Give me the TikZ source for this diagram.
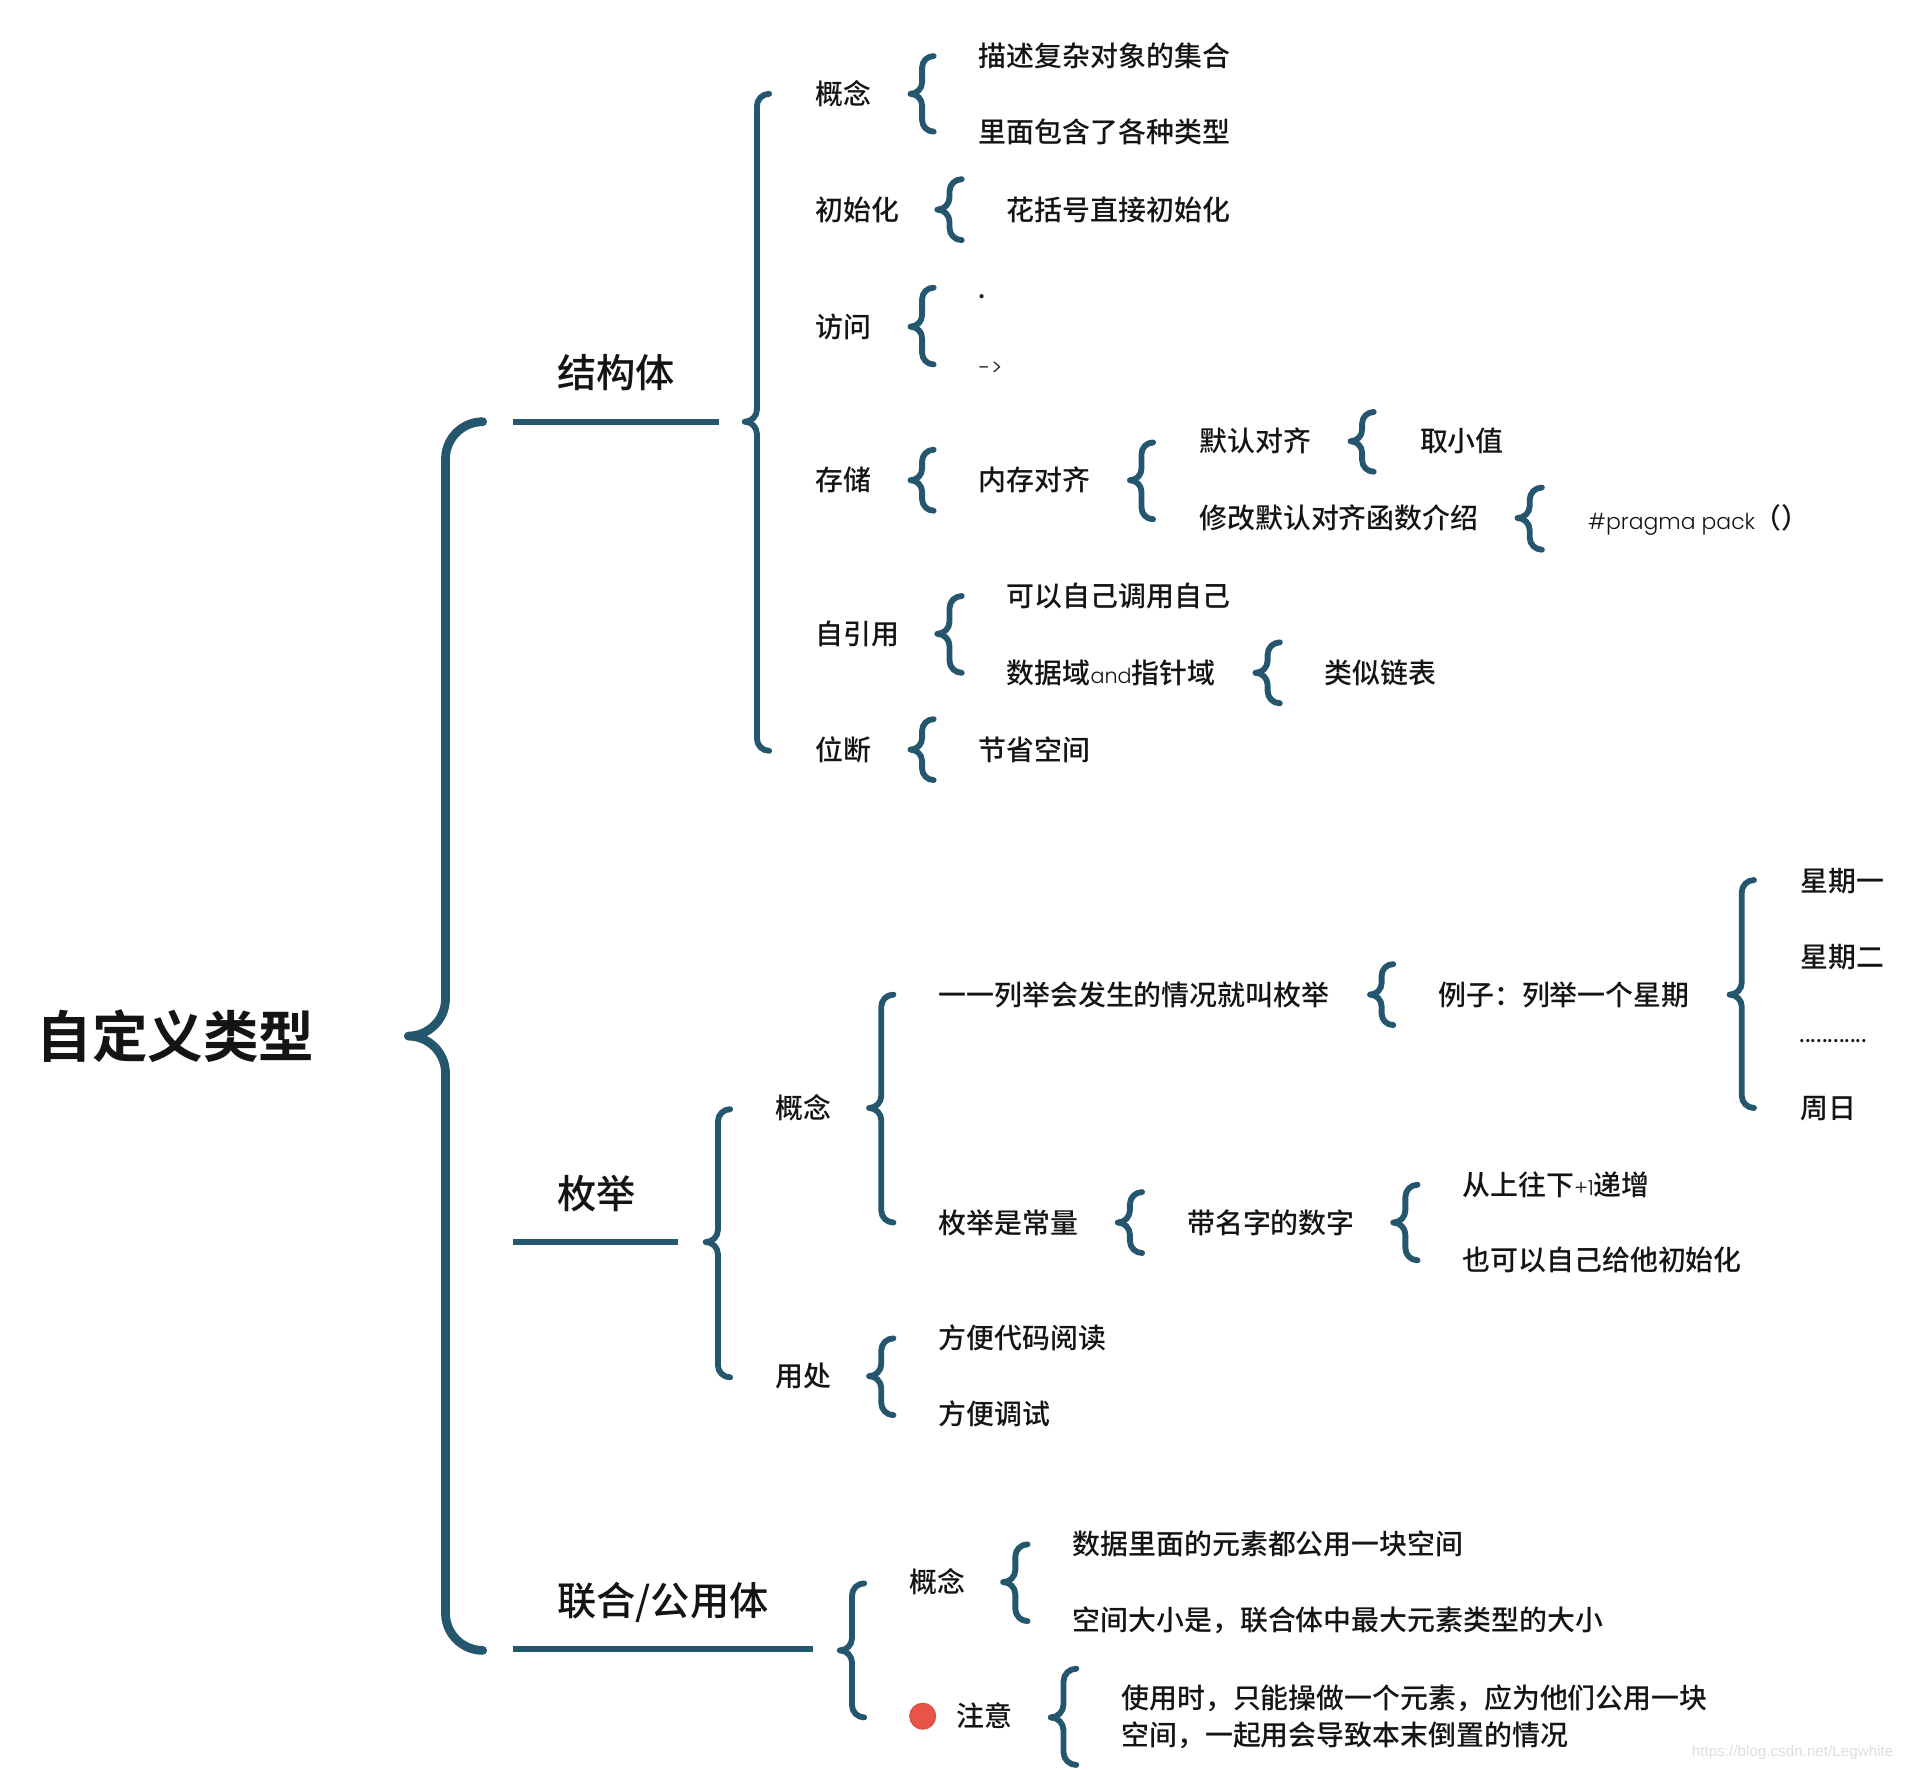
\documentclass[tikz,border=0pt]{standalone}
\usepackage{fontspec}
\setmainfont[BoldFont={Noto Sans CJK SC Bold}]{Noto Sans CJK SC Medium}
\newfontfamily\handfont[UprightFont=* Light]{Poppins}
\newfontfamily\wmfont{Liberation Sans}
\definecolor{brc}{HTML}{24566E}
\definecolor{inkc}{HTML}{141414}
\definecolor{dotfill}{HTML}{E85546}
\definecolor{dotline}{HTML}{DC5042}
\tikzset{
  brbase/.style={draw=brc,line cap=round,line join=round},
  brmid/.style={brbase,line width=4.8pt},
  brbig/.style={brbase,line width=7.2pt},
  ruleline/.style={draw=brc,line width=4.6pt},
  txtbase/.style={anchor=west,inner sep=0pt,outer sep=0pt,text=inkc},
  txt/.style={txtbase,text height=20.1pt,text depth=2.8pt,font=\fontsize{22.9}{26}\selectfont},
  txtmain/.style={txtbase,text height=28.5pt,text depth=3.9pt,font=\fontsize{32.2}{38}\selectfont},
  txttitle/.style={txtbase,text height=40.5pt,text depth=5.5pt,font=\fontsize{45.6}{52}\bfseries\selectfont},
  hand/.style={txtbase,text height=15.8pt,text depth=2.2pt,font=\fontsize{18}{24}\selectfont\handfont},
}
% name, tip x, end x, top, mid, bottom, style
\newcommand{\cbrace}[7]{%
  \pgfmathsetmacro{\brtip}{#2+2}
  \pgfmathsetmacro{\brend}{#3-2}
  \coordinate (#1-t) at (\brend,#4);
  \coordinate (#1-m) at (\brtip,#5);
  \coordinate (#1-b) at (\brend,#6);
  \pgfmathsetmacro{\brw}{(#3-#2)/2-2}
  \pgfmathsetmacro{\brc}{\brw*.55}
  \pgfmathsetmacro{\brsx}{(#2+#3)/2}
  \draw[#7] (#1-t) .. controls +(-\brc,0) and +(0,-\brc) .. ++(-\brw,\brw)
    -- (\brsx,{#5-\brw}) .. controls +(0,\brc) and +(\brc,0) .. (#1-m)
    .. controls +(\brc,0) and +(0,-\brc) .. (\brsx,{#5+\brw})
    -- (\brsx,{#6-\brw}) .. controls +(0,\brc) and +(-\brc,0) .. (#1-b);
}
\newcommand{\thin}[1]{{\fontsize{17}{20}\selectfont\handfont #1}}
\begin{document}
\begin{tikzpicture}[x=1pt,y=-1pt]
\useasboundingbox (0,0) rectangle (1567,1452.1);
% level 0
\node[txttitle] (root) at (30,850) {自定义类型};
\cbrace{b0}{333}{398}{346}{850}{1354}{brbig}
% level 1
\node[txtmain] (s) at (457,306) {结构体};
\node[txtmain] (e) at (457,979) {枚举};
\node[txtmain] (u) at (457,1313) {联合/公用体};
\coordinate (sa) at (421,346); \coordinate (sb) at (590,346);
\coordinate (ea) at (421,1019); \coordinate (eb) at (556,1019);
\coordinate (ua) at (421,1353); \coordinate (ub) at (667,1353);
\draw[ruleline] (sa) -- (sb);
\draw[ruleline] (ea) -- (eb);
\draw[ruleline] (ua) -- (ub);
% struct
\cbrace{bs}{609}{633}{77}{346}{616}{brmid}
\node[txt] (s1) at (669,77) {概念};
\cbrace{bs1}{745}{768}{46}{77}{108}{brmid}
\node[txt] (s11) at (803,46) {描述复杂对象的集合};
\node[txt] (s12) at (803,108) {里面包含了各种类型};
\node[txt] (s2) at (669,172) {初始化};
\cbrace{bs2}{767}{791}{147}{172}{197}{brmid}
\node[txt] (s21) at (826,172) {花括号直接初始化};
\node[txt] (s3) at (669,268) {访问};
\cbrace{bs3}{745}{768}{236}{268}{299}{brmid}
\node[hand,font=\fontsize{18}{24}\bfseries\selectfont] (s31) at (803,238) {.};
\node[hand] (s32) at (803,301) {-\kern1pt>};
\node[txt] (s4) at (669,394) {存储};
\cbrace{bs4}{745}{768}{369}{394}{419}{brmid}
\node[txt] (s41) at (803,394) {内存对齐};
\cbrace{bs41}{925}{948}{363}{394}{426}{brmid}
\node[txt] (s411) at (984,362) {默认对齐};
\cbrace{bs411}{1106}{1129}{338}{362}{387}{brmid}
\node[txt] (s4111) at (1165,362) {取小值};
\node[txt] (s412) at (984,425) {修改默认对齐函数介绍};
\cbrace{bs412}{1243}{1267}{400}{425}{451}{brmid}
\node[hand] (s4121) at (1303,428) {\#pragma pack};
\node[txt] (s4122) at (1439,425) {（）};
\node[txt] (s5) at (669,520) {自引用};
\cbrace{bs5}{767}{791}{489}{520}{552}{brmid}
\node[txt] (s51) at (826,489) {可以自己调用自己};
\node[txt] (s52) at (826,552) {数据域\thin{and}指针域};
\cbrace{bs52}{1028}{1052}{527}{552}{577}{brmid}
\node[txt] (s521) at (1087,552) {类似链表};
\node[txt] (s6) at (669,615) {位断};
\cbrace{bs6}{745}{768}{590}{615}{640}{brmid}
\node[txt] (s61) at (803,615) {节省空间};
% enum
\cbrace{be}{577}{601}{910}{1019}{1130}{brmid}
\node[txt] (e1) at (636,909) {概念};
\cbrace{be1}{711}{735}{816}{909}{1003}{brmid}
\node[txt] (e11) at (770,816) {一一列举会发生的情况就叫枚举};
\cbrace{be11}{1122}{1145}{791}{816}{841}{brmid}
\node[txt] (e111) at (1180,816) {例子：列举一个星期};
\cbrace{be111}{1417}{1441}{722}{816}{909}{brmid}
\node[txt] (d1) at (1477,723) {星期一};
\node[txt] (d2) at (1477,785) {星期二};
\node[txtbase,font=\fontsize{14.2}{16}\bfseries\selectfont] (d3) at (1477,854) {\kern-.5pt............};
\node[txt] (d4) at (1477,909) {周日};
\node[txt] (e12) at (770,1003) {枚举是常量};
\cbrace{be12}{915}{939}{978}{1003}{1028}{brmid}
\node[txt] (e121) at (974,1003) {带名字的数字};
\cbrace{be121}{1141}{1165}{972}{1003}{1034}{brmid}
\node[txt] (e1211) at (1200,972) {从上往下\thin{+1}递增};
\node[txt] (e1212) at (1200,1034) {也可以自己给他初始化};
\node[txt] (e2) at (636,1129) {用处};
\cbrace{be2}{711}{735}{1098}{1129}{1161}{brmid}
\node[txt] (e21) at (770,1098) {方便代码阅读};
\node[txt] (e22) at (770,1160) {方便调试};
% union
\cbrace{bu}{687}{711}{1299}{1354}{1409}{brmid}
\node[txt] (u1) at (746,1298) {概念};
\cbrace{bu1}{821}{845}{1267}{1298}{1330}{brmid}
\node[txt] (u11) at (880,1267) {数据里面的元素都公用一块空间};
\node[txt] (u12) at (880,1329) {空间大小是，联合体中最大元素类型的大小};
\node[circle,fill=dotfill,draw=dotline,line width=1.2pt,minimum size=21pt,inner sep=0pt] (udot) at (757,1408) {};
\node[txt] (u2) at (785,1408) {注意};
\cbrace{bu2}{860}{885}{1369}{1409}{1448}{brmid}
\node[txt] (u21) at (920,1393) {使用时，只能操做一个元素，应为他们公用一块};
\node[txt] (u22) at (920,1423) {空间，一起用会导致本末倒置的情况};
\node[txtbase,text=black!13,font=\fontsize{12.5}{15}\selectfont\wmfont] (wm) at (1388,1438) {https://blog.csdn.net/Legwhite};
\end{tikzpicture}
\end{document}
